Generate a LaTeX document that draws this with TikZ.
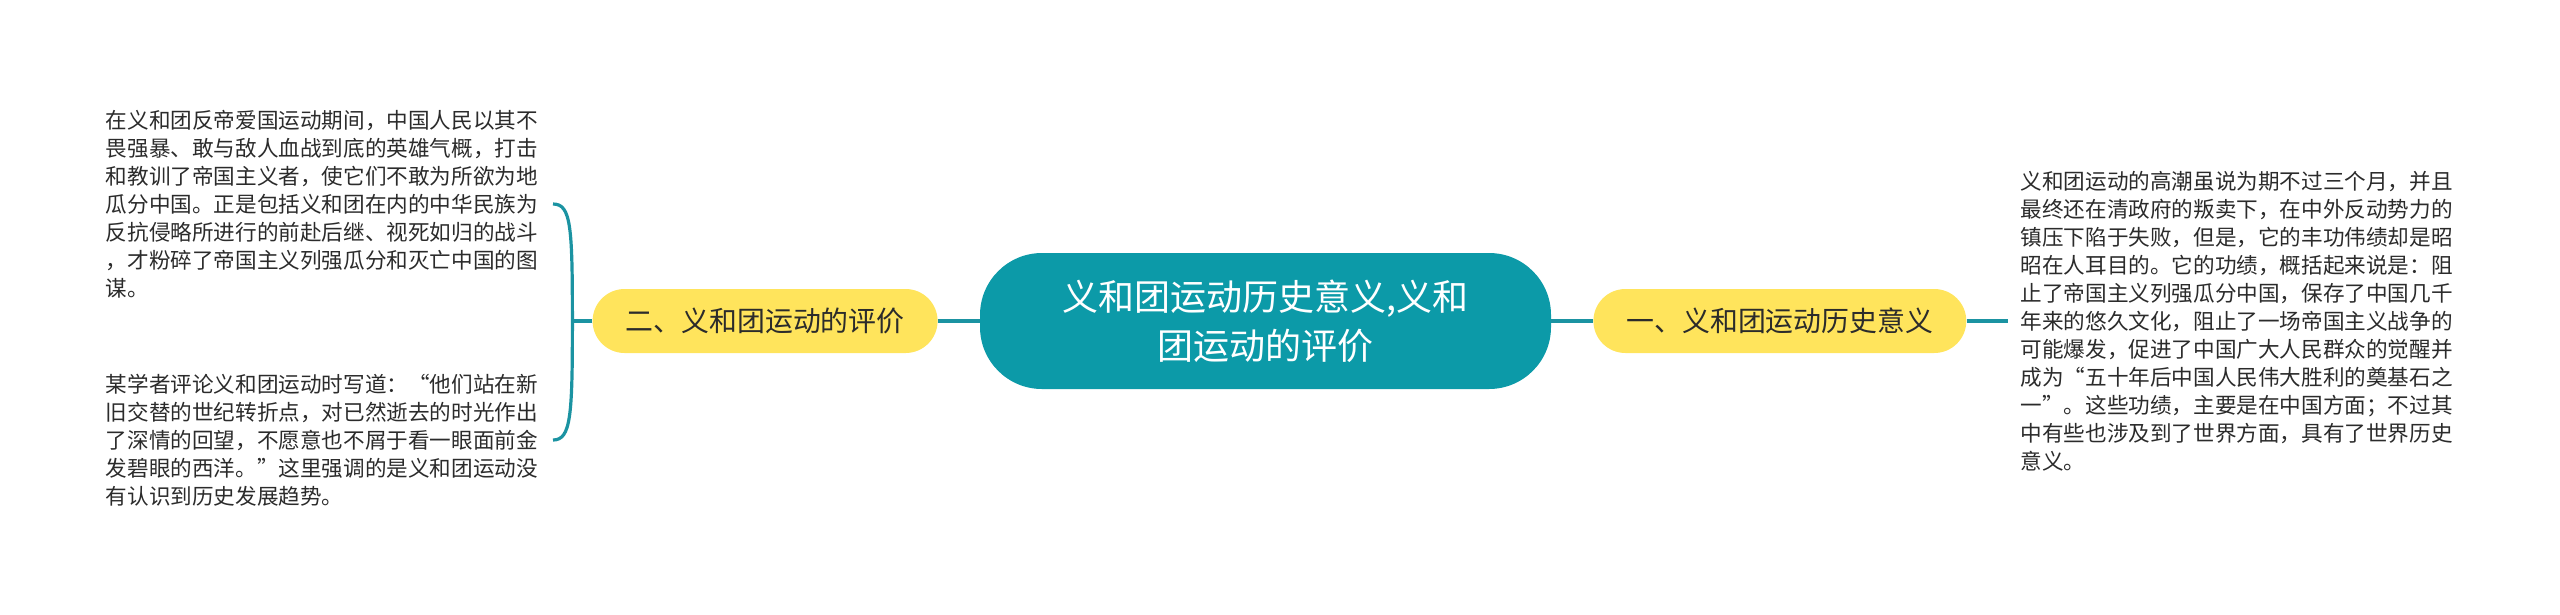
\documentclass[tikz,border=0pt]{standalone}
\usepackage{fontspec}
\setmainfont{Noto Sans CJK SC}
\usepackage{tikz}
\usetikzlibrary{positioning,shapes.misc}
\definecolor{rootteal}{HTML}{0C9AA8}
\definecolor{linkteal}{HTML}{1B93A2}
\definecolor{branchyellow}{HTML}{FFE45C}
\definecolor{leaftext}{HTML}{2B2B2B}

\begin{document}
\begin{tikzpicture}[x=1pt,y=-1pt]
\tikzset{rootnode/.style={fill=rootteal,text=white,align=center,rounded corners=62pt,
minimum width=571pt,minimum height=136pt,font=\fontsize{36}{49}\selectfont}}
\tikzset{branch/.style={fill=branchyellow,text=leaftext,rounded corners=32pt,
minimum height=64pt,inner xsep=33pt,font=\fontsize{27.9}{34}\selectfont}}
\tikzset{leaf/.style={text=leaftext,align=left,inner xsep=13pt,inner ysep=0pt,
font=\fontsize{21.6}{28}\selectfont}}
\tikzset{link/.style={draw=linkteal,line width=3.2pt}}
\useasboundingbox (0,0) rectangle (2560,614);
\node[rootnode] (root) at (1265.5,321) {义和团运动历史意义,义和\\团运动的评价};
\node[branch,left=42pt of root] (evalnode) {二、义和团运动的评价};
\node[branch,right=42pt of root] (histnode) {一、义和团运动历史意义};
\node[leaf,right=41pt of histnode] (histtext) {义和团运动的高潮虽说为期不过三个月，并且\\
最终还在清政府的叛卖下，在中外反动势力的\\
镇压下陷于失败，但是，它的丰功伟绩却是昭\\
昭在人耳目的。它的功绩，概括起来说是：阻\\
止了帝国主义列强瓜分中国，保存了中国几千\\
年来的悠久文化，阻止了一场帝国主义战争的\\
可能爆发，促进了中国广大人民群众的觉醒并\\
成为“五十年后中国人民伟大胜利的奠基石之\\
一”。这些功绩，主要是在中国方面；不过其\\
中有些也涉及到了世界方面，具有了世界历史\\
意义。};
\node[leaf,anchor=east,inner xsep=15pt] (evaltextA) at (553,204) {在义和团反帝爱国运动期间，中国人民以其不\\
畏强暴、敢与敌人血战到底的英雄气概，打击\\
和教训了帝国主义者，使它们不敢为所欲为地\\
瓜分中国。正是包括义和团在内的中华民族为\\
反抗侵略所进行的前赴后继、视死如归的战斗\\
，才粉碎了帝国主义列强瓜分和灭亡中国的图\\
谋。};
\node[leaf,anchor=east,inner xsep=15pt] (evaltextB) at (553,440) {某学者评论义和团运动时写道：“他们站在新\\
旧交替的世纪转折点，对已然逝去的时光作出\\
了深情的回望，不愿意也不屑于看一眼面前金\\
发碧眼的西洋。”这里强调的是义和团运动没\\
有认识到历史发展趋势。};
\coordinate[left=20pt of evalnode.west] (evalfork);
\draw[link] (root) -- (evalnode);
\draw[link] (root) -- (histnode);
\draw[link] (histnode) -- (histtext);
\draw[link] (evalnode) -- (evalfork);
\draw[link] (evalfork) .. controls +(0,-95) and +(18,0) .. (evaltextA.east);
\draw[link] (evalfork) .. controls +(0,95) and +(18,0) .. (evaltextB.east);
\end{tikzpicture}
\end{document}
